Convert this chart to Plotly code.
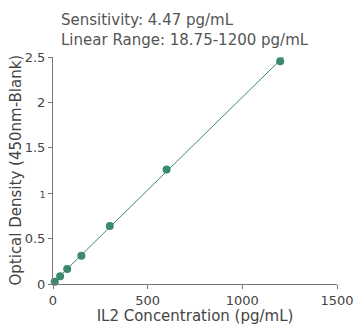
import numpy as np
import plotly.graph_objects as go

concentration = [9.375, 37.5, 75, 150, 300, 600, 1200]
od = [0.025, 0.085, 0.166, 0.31, 0.64, 1.26, 2.454]

y_ticks = [0, 0.5, 1, 1.5, 2, 2.5]
y_ticktext = ["0", "0.5", "<span style='font-size:9px'>1</span>", "1.5", "2", "2.5"]
x_ticks = [0, 500, 1000, 1500]

title_lines = ["Sensitivity: 4.47 pg/mL", "Linear Range: 18.75-1200 pg/mL"]
y_title = "Optical Density (450nm-Blank)"

green = "#3b8a6b"
font = "DejaVu Sans, sans-serif"

slope, intercept = np.polyfit(concentration, od, 1)
fit_x = [0, 1500]
fit_y = [intercept + slope * v for v in fit_x]

fig = go.Figure()
fig.add_trace(go.Scatter(x=fit_x, y=fit_y, mode="lines",
                         line=dict(color=green, width=1), hoverinfo="skip"))
fig.add_trace(go.Scatter(x=concentration, y=od, mode="markers",
                         marker=dict(color=green, size=8), cliponaxis=False))

axis_common = dict(showgrid=False, zeroline=False, showline=True, linecolor="#777",
                   linewidth=1, ticks="outside", ticklen=4, tickcolor="#777",
                   automargin=False, ticklabeloverflow="allow",
                   tickfont=dict(size=13, color="#444"))

fig.update_xaxes(range=[0, 1500], tickvals=x_ticks,
                 title=dict(text="IL2 Concentration (pg/mL)", font=dict(size=15, color="#444"), standoff=0),
                 **axis_common)
fig.update_yaxes(range=[0, 2.5], tickvals=y_ticks, ticktext=y_ticktext, **axis_common)

# plot area spans rows 57..284 (227 px), columns 53..337 (284 px)
for line, py in zip(title_lines, [20, 40]):
    fig.add_annotation(text=line, xref="paper", yref="paper",
                       x=(59 - 53) / 284, y=(284 - py) / 227,
                       xanchor="left", yanchor="middle", showarrow=False,
                       font=dict(size=15, color="#555"))

# y title as a rotated annotation, kept clear of the tick labels
fig.add_annotation(text=y_title, xref="paper", yref="paper",
                   x=(15 - 53) / 284, y=0.5, textangle=-90,
                   xanchor="center", yanchor="middle", showarrow=False,
                   font=dict(size=15, color="#444"))

fig.update_layout(
    width=354, height=325,
    margin=dict(l=53, r=17, t=57, b=41),
    paper_bgcolor="white", plot_bgcolor="white",
    showlegend=False,
    font=dict(family=font, color="#444"),
)

# drop the default 8px body margin so the figure fills the window exactly
fig.write_html("out.html", config={"displayModeBar": False},
               post_script="document.body.style.margin='0';")
